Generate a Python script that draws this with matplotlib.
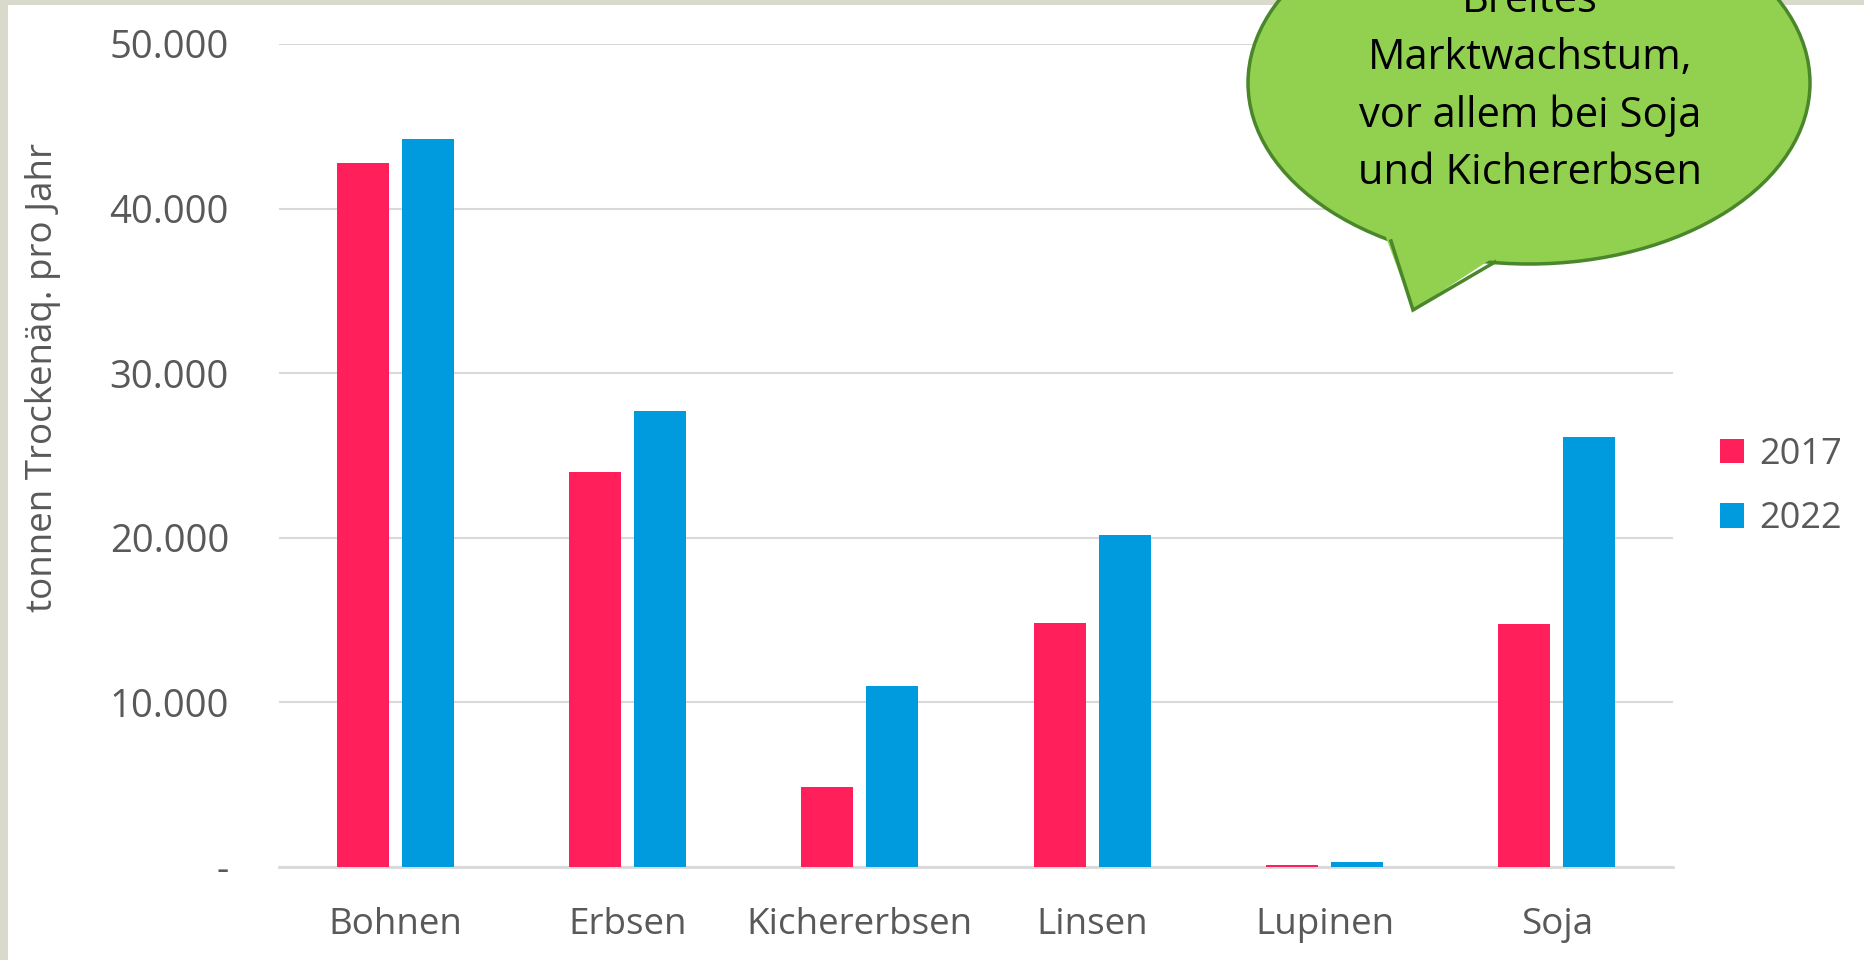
import matplotlib.pyplot as plt
import numpy as np
from matplotlib.patches import Ellipse, Polygon, Rectangle
from matplotlib.ticker import FuncFormatter

plt.rcParams['font.family'] = ['Open Sans', 'DejaVu Sans']

# Daten (tonnen Trockenäquivalent pro Jahr)
kategorien = ['Bohnen', 'Erbsen', 'Kichererbsen', 'Linsen', 'Lupinen', 'Soja']
werte_2017 = [42800, 24000, 4850, 14800, 150, 14750]
werte_2022 = [44200, 27700, 11000, 20150, 300, 26100]
jahre = ['2017', '2022']
farben = ['#FF1F5B', '#009ADE']

grau = '#595959'
W, H = 1865, 960

fig = plt.figure(figsize=(W / 100, H / 100), dpi=100)
fig.patch.set_facecolor('white')

# Rahmenstreifen links und oben
fig.add_artist(Rectangle((0, 0), 8 / W, 1, transform=fig.transFigure,
                         facecolor='#D9DACB', edgecolor='none', zorder=0))
fig.add_artist(Rectangle((0, 1 - 5 / H), 1, 5 / H, transform=fig.transFigure,
                         facecolor='#D9DACB', edgecolor='none', zorder=0))

ax = fig.add_axes([279 / W, 1 - 867 / H, (1673 - 279) / W, (867 - 44) / H])
x = np.arange(len(kategorien))
b = 0.225
ax.bar(x - 0.14, werte_2017, b, color=farben[0], label=jahre[0], zorder=3)
ax.bar(x + 0.14, werte_2022, b, color=farben[1], label=jahre[1], zorder=3)

ax.set_xlim(-0.5, len(kategorien) - 0.5)
ax.set_ylim(0, 50000)
ax.set_yticks(range(0, 50001, 10000))
ax.yaxis.set_major_formatter(FuncFormatter(
    lambda v, p: '-' if v == 0 else f'{int(v):,}'.replace(',', '.')))
ax.set_xticks(x)
ax.set_xticklabels(kategorien)
ax.grid(axis='y', color='#D9D9D9', linewidth=1.5, zorder=0)
for s in ['top', 'right', 'left']:
    ax.spines[s].set_visible(False)
ax.spines['bottom'].set_color('#D9D9D9')
ax.spines['bottom'].set_linewidth(2)
ax.tick_params(axis='both', length=0, labelcolor=grau)
ax.tick_params(axis='y', pad=36, labelsize=27.5)
ax.tick_params(axis='x', pad=29, labelsize=26.5)
ax.set_ylabel('tonnen Trockenäq. pro Jahr', fontsize=26.5, color=grau)
ax.yaxis.set_label_coords(61 / W, 1 - 377 / H, transform=fig.transFigure)

leg = ax.legend(loc='center left', bbox_to_anchor=(1688 / W, 1 - 487 / H),
                bbox_transform=fig.transFigure, frameon=False, fontsize=26,
                handlelength=0.66, handleheight=0.66, handletextpad=0.4,
                labelspacing=0.78)
for t in leg.get_texts():
    t.set_color(grau)

# Sprechblase
ov = fig.add_axes([0, 0, 1, 1], zorder=10)
ov.set_xlim(0, W)
ov.set_ylim(H, 0)
ov.axis('off')
gruen, rand = '#92D050', '#4A862A'
ov.add_patch(Ellipse((1529, 83), 562, 362, facecolor=gruen, edgecolor=rand, linewidth=2.5))
ov.add_patch(Polygon([(1384, 232), (1413, 310), (1502, 252)], closed=True,
                     facecolor=gruen, edgecolor='none'))
ov.plot([1391, 1413, 1495], [241, 310, 262], color=rand, linewidth=2.5,
        solid_joinstyle='miter')
zeilen = ['Breites', 'Marktwachstum,', 'vor allem bei Soja', 'und Kichererbsen']
for i, z in enumerate(zeilen):
    ov.text(1530, 12 + 57.5 * i, z, ha='center', va='baseline', fontsize=30, color='black')

fig.savefig('out.png', dpi=100)
